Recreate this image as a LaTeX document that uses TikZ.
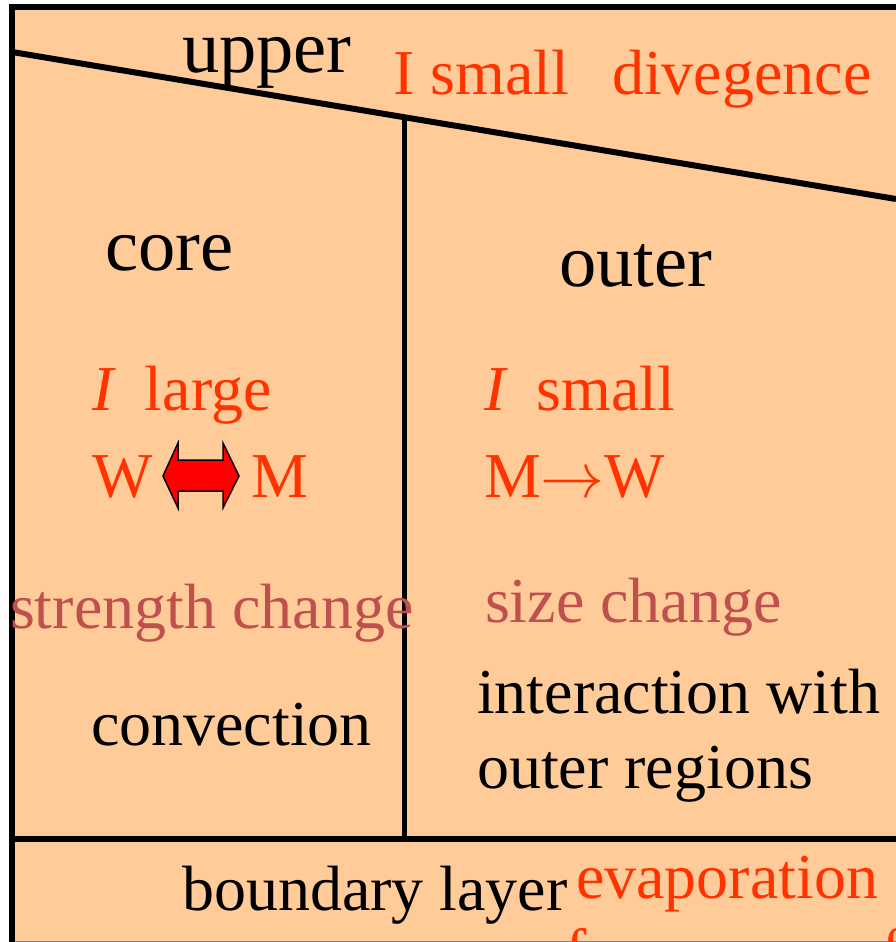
\documentclass[tikz,border=0pt]{standalone}
\usepackage{fix-cm}
\usepackage{fontspec}
\setmainfont{Liberation Serif}
\definecolor{panel}{HTML}{FFCC99}
\definecolor{hot}{HTML}{FF3300}
\definecolor{muted}{HTML}{C0504D}
\begin{document}
\begin{tikzpicture}[x=1pt,y=-1pt,
  lbl/.style={anchor=base west,inner sep=0pt,outer sep=0pt},
  bigtxt/.style={lbl,font=\fontsize{74.5}{88}\selectfont},
  midtxt/.style={lbl,font=\fontsize{64}{75}\selectfont},
  frame/.style={line width=6pt,black},
  divider/.style={line width=5pt,black}]
\useasboundingbox (0,0) rectangle (896,942);
\clip (0,0) rectangle (896,942);
% background panel
\fill[panel] (12,7) rectangle (900,941);
\draw[gray,line width=1pt] (12,941.5) -- (900,941.5);
% frame and dividers
\coordinate (tl) at (12,7);
\coordinate (tr) at (900,7);
\coordinate (bl) at (12,950);
\coordinate (dl) at (12,52);
\coordinate (dr) at (896,199);
\coordinate (hl) at (12,839);
\coordinate (hr) at (900,839);
\coordinate (vt) at (404.5,117);
\coordinate (vb) at (404.5,839);
\draw[frame] (bl) -- (tl) -- (tr);
\draw[frame] (dl) -- (dr);
\draw[frame] (hl) -- (hr);
\draw[divider] (vt) -- (vb);
% texts
\node[bigtxt] (upper) at (182,73) {upper};
\node[midtxt,text=hot] (ism) at (393,95) {I small};
\node[midtxt,text=hot] (dive) at (612,95) {divegence};
\node[bigtxt] (core) at (105,270) {core};
\node[bigtxt] (outer) at (559,286) {outer};
\node[midtxt,text=hot] (ilarge) at (92,410) {\textit{I}\hspace{29pt}large};
\node[midtxt,text=hot] (ismall) at (484,410) {\textit{I}\hspace{29pt}small};
\node[midtxt,text=hot] (w1) at (92,497) {W};
\node[midtxt,text=hot] (m1) at (251,497) {M};
\filldraw[fill=red,draw=black,line width=1.5pt,line join=miter]
  (163,476) -- (178,443) -- (178,460) -- (223,460) -- (223,443) -- (239,476)
  -- (223,508) -- (223,491) -- (178,491) -- (178,508) -- cycle;
\node[midtxt,text=hot] (mw) at (484,497) {M$\rightarrow$W};
\node[midtxt,text=muted] (strength) at (10,628) {strength change};
\node[midtxt,text=muted] (size) at (485,622) {size change};
\node[midtxt] (conv) at (91,745) {convection};
\node[midtxt] (inter) at (477,713) {interaction with};
\node[midtxt] (outreg) at (477,788) {outer regions};
\node[midtxt] (bl1) at (182,910) {boundary layer};
\node[midtxt,text=hot] (evap) at (576,898) {evaporation};
\node[midtxt,text=hot] (sea) at (565,973) {from sea surface};
\end{tikzpicture}
\end{document}
